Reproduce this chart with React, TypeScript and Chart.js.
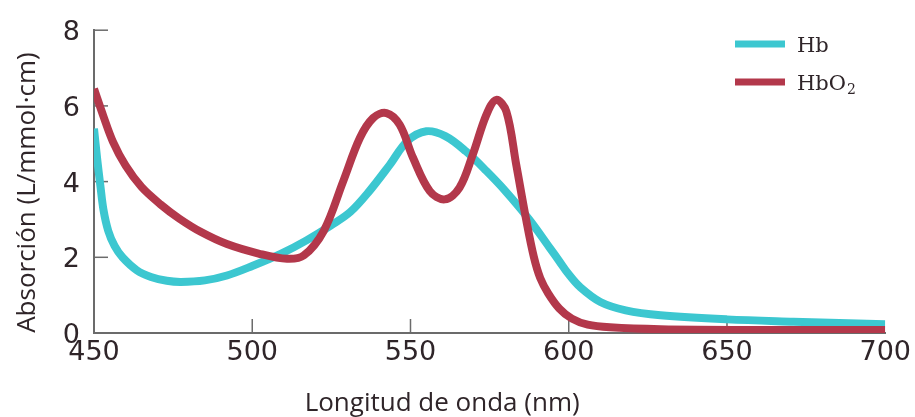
import React, { useEffect, useRef } from "react";
import { Chart, registerables } from "chart.js";

Chart.register(...registerables);

const hbNm = [450, 451, 452, 453, 454.5, 456.5, 459, 463.5, 468, 473, 477.5, 485, 492, 500, 509, 517, 525, 531, 537, 543.5, 549, 555, 561, 567.5, 574, 580, 587.5, 594, 597, 600, 603.5, 610, 618, 629, 650, 671, 700];
const hbAbs = [5.4, 4.6, 3.9, 3.25, 2.7, 2.3, 2.0, 1.66, 1.48, 1.38, 1.35, 1.39, 1.52, 1.77, 2.09, 2.44, 2.85, 3.2, 3.75, 4.45, 5.07, 5.33, 5.2, 4.8, 4.28, 3.75, 3.0, 2.25, 1.9, 1.55, 1.22, 0.82, 0.6, 0.47, 0.36, 0.3, 0.23];

const hbo2Nm = [450, 453, 456, 460, 465, 471, 477, 484, 492, 502, 511, 516.3, 522.6, 528.7, 534, 538.2, 542.4, 546.6, 550.8, 556.1, 560.8, 565.5, 569.7, 574, 577.1, 580.3, 583.4, 586.6, 589, 591, 593.5, 597, 601, 606, 613, 629, 660, 700];
const hbo2Abs = [6.45, 5.72, 5.05, 4.42, 3.86, 3.4, 3.02, 2.66, 2.35, 2.1, 1.96, 2.05, 2.7, 4.0, 5.15, 5.68, 5.81, 5.5, 4.63, 3.75, 3.53, 3.84, 4.72, 5.77, 6.16, 5.85, 4.45, 2.97, 2.0, 1.45, 1.05, 0.65, 0.38, 0.22, 0.15, 0.1, 0.08, 0.08];

const xTicks = [450, 500, 550, 600, 650, 700];
const yTicks = [0, 2, 4, 6, 8];
const innerXTicks = [500, 550, 600, 650];
const innerYTicks = [2, 4, 6, 8];

const seriesLabels = ["Hb", "HbO\u2082"];
const seriesColors = ["#3cc7d0", "#b3384b"];

const xTitle = "Longitud de onda (nm)";
const yTitle = "Absorción (L/mmol·cm)";

const TEXT = "#2f2529";
const AXIS = "#6b6b6b";

const innerTicksPlugin = {
  id: "innerTicks",
  beforeDatasetsDraw(chart: any) {
    const { ctx, scales } = chart;
    const x = scales.x;
    const y = scales.y;
    ctx.save();
    ctx.strokeStyle = AXIS;
    ctx.lineWidth = 1.5;
    const x0 = x.getPixelForValue(450);
    const y0 = y.getPixelForValue(0);
    innerYTicks.forEach((v) => {
      const py = y.getPixelForValue(v);
      ctx.beginPath();
      ctx.moveTo(x0, py);
      ctx.lineTo(x0 + 14, py);
      ctx.stroke();
    });
    innerXTicks.forEach((v) => {
      const px = x.getPixelForValue(v);
      ctx.beginPath();
      ctx.moveTo(px, y0);
      ctx.lineTo(px, y0 - 14);
      ctx.stroke();
    });
    ctx.restore();
  },
};

const titlesPlugin = {
  id: "axisTitles",
  afterDraw(chart: any) {
    const { ctx, chartArea } = chart;
    ctx.save();
    ctx.fillStyle = TEXT;
    ctx.textAlign = "center";
    ctx.save();
    ctx.translate(28, (chartArea.top + chartArea.bottom) / 2 + 11);
    ctx.rotate(-Math.PI / 2);
    ctx.font = "26px 'Open Sans'";
    ctx.textBaseline = "middle";
    ctx.fillText(yTitle, 0, 0);
    ctx.restore();
    ctx.font = "26px 'Open Sans'";
    ctx.textBaseline = "alphabetic";
    ctx.fillText(xTitle, chartArea.left + (chartArea.right - chartArea.left) * 0.44, 411);
    ctx.restore();
  },
};

const legendPlugin = {
  id: "customLegend",
  afterDraw(chart: any) {
    const { ctx } = chart;
    ctx.save();
    const lx = 735;
    const rows = [44, 82];
    chart.data.datasets.forEach((ds: any, i: number) => {
      const yy = rows[i];
      ctx.strokeStyle = ds.borderColor;
      ctx.lineWidth = 7;
      ctx.lineCap = "butt";
      ctx.beginPath();
      ctx.moveTo(lx, yy);
      ctx.lineTo(lx + 50, yy);
      ctx.stroke();
      ctx.fillStyle = TEXT;
      ctx.textBaseline = "alphabetic";
      ctx.textAlign = "left";
      ctx.font = "21px 'DejaVu Serif'";
      const label: string = ds.label;
      if (label.endsWith("\u2082")) {
        const main = label.slice(0, -1);
        ctx.fillText(main, 797, yy + 8);
        const w = ctx.measureText(main).width;
        ctx.font = "14px 'DejaVu Serif'";
        ctx.fillText("2", 797 + w + 1, yy + 12);
      } else {
        ctx.fillText(label, 797, yy + 8);
      }
    });
    ctx.restore();
  },
};

export default function App() {
  const ref = useRef<HTMLCanvasElement | null>(null);
  useEffect(() => {
    if (!ref.current) return;
    const chart = new Chart(ref.current, {
      type: "line",
      data: {
        datasets: [
          {
            label: seriesLabels[0],
            data: hbNm.map((x, i) => ({ x, y: hbAbs[i] })),
            borderColor: seriesColors[0],
            backgroundColor: seriesColors[0],
            borderWidth: 8,
            pointRadius: 0,
            tension: 0.35,
            order: 2,
          },
          {
            label: seriesLabels[1],
            data: hbo2Nm.map((x, i) => ({ x, y: hbo2Abs[i] })),
            borderColor: seriesColors[1],
            backgroundColor: seriesColors[1],
            borderWidth: 8,
            pointRadius: 0,
            tension: 0.35,
            order: 1,
          },
        ],
      },
      options: {
        animation: false,
        responsive: true,
        maintainAspectRatio: false,
        layout: { padding: { top: 28, right: 29, left: 0, bottom: 0 } },
        plugins: { legend: { display: false }, tooltip: { enabled: false } },
        scales: {
          x: {
            type: "linear",
            min: 450,
            max: 700,
            afterFit: (s: any) => {
              s.height = 84;
            },
            afterBuildTicks: (s: any) => {
              s.ticks = xTicks.map((v) => ({ value: v }));
            },
            grid: { display: false, drawTicks: false },
            border: { display: true, color: AXIS, width: 2 },
            ticks: {
              padding: 4,
              color: TEXT,
              font: { family: "'DejaVu Sans'", size: 27 },
              maxRotation: 0,
              autoSkip: false,
            },
            title: { display: false },
          },
          y: {
            type: "linear",
            min: 0,
            max: 8,
            afterFit: (s: any) => {
              s.width = 94;
            },
            afterBuildTicks: (s: any) => {
              s.ticks = yTicks.map((v) => ({ value: v }));
            },
            grid: { display: false, drawTicks: false },
            border: { display: true, color: AXIS, width: 2 },
            ticks: {
              padding: 14,
              labelOffset: 3,
              color: TEXT,
              font: { family: "'DejaVu Sans'", size: 27 },
            },
            title: { display: false },
          },
        },
      },
      plugins: [innerTicksPlugin, titlesPlugin, legendPlugin],
    });
    return () => chart.destroy();
  }, []);
  return (
    <div style={{ position: "absolute", left: 0, top: 0, width: 915, height: 417, background: "#fff" }}>
      <canvas ref={ref} />
    </div>
  );
}
